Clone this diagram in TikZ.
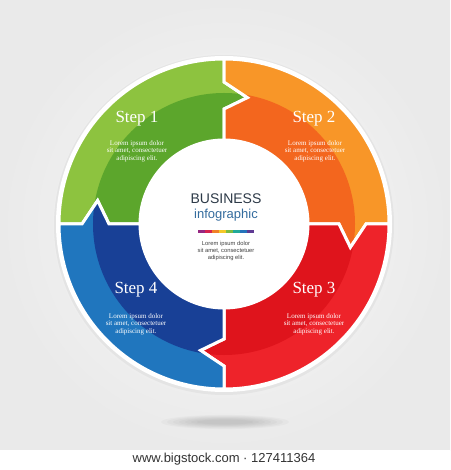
\documentclass[tikz,border=0pt]{standalone}
\usepackage{fontspec}
\setmainfont{Liberation Serif}
\newfontfamily\sansFont{Liberation Sans}

\definecolor{greenLight}{RGB}{141,195,63}
\definecolor{greenDark}{RGB}{92,166,44}
\definecolor{orangeLight}{RGB}{248,150,40}
\definecolor{orangeDark}{RGB}{243,102,30}
\definecolor{redLight}{RGB}{238,35,42}
\definecolor{redDark}{RGB}{223,20,28}
\definecolor{blueLight}{RGB}{32,118,190}
\definecolor{blueDark}{RGB}{24,64,150}
\definecolor{titleGray}{RGB}{45,58,72}
\definecolor{titleBlue}{RGB}{52,108,158}
\definecolor{bgInner}{RGB}{249,249,249}
\definecolor{bgOuter}{RGB}{234,234,234}
\definecolor{barA}{RGB}{150,40,130}
\definecolor{barB}{RGB}{214,36,80}
\definecolor{barC}{RGB}{240,128,40}
\definecolor{barD}{RGB}{245,200,40}
\definecolor{barE}{RGB}{125,187,66}
\definecolor{barF}{RGB}{33,169,154}
\definecolor{barG}{RGB}{37,116,186}
\definecolor{barH}{RGB}{95,58,147}

\newcommand{\rIn}{84}
\newcommand{\rOut}{165}
\newcommand{\rBand}{131}
\newcommand{\rArrowIn}{115}
\newcommand{\rArrowOut}{142}
\newcommand{\rTip}{128.5}
\newcommand{\tipAngle}{10.5}
\newcommand{\segPath}[1]{(#1:\rIn) -- (#1:\rArrowIn) -- ({#1-\tipAngle}:\rTip)
   -- (#1:\rArrowOut) -- (#1:\rOut) arc[start angle=#1, end angle={#1-90}, radius=\rOut]
   -- ({#1-90}:\rArrowOut) -- ({#1-90-\tipAngle}:\rTip) -- ({#1-90}:\rArrowIn)
   -- ({#1-90}:\rIn) arc[start angle={#1-90}, end angle=#1, radius=\rIn] -- cycle}

\tikzset{
  stepLabel/.style={text=white, font=\fontsize{17}{17}\selectfont},
  stepText/.style={text=white, align=center, font=\fontsize{7}{7.6}\selectfont},
  centerText/.style={text=black!75, align=center, font=\sansFont\fontsize{5.8}{7.2}\selectfont},
}

\begin{document}
\begin{tikzpicture}[x=1pt, y=1pt]
   \useasboundingbox (-224,-246) rectangle (226,224);
   \shade[inner color=bgInner, outer color=bgOuter] (-224,-226) rectangle (226,224);
   \fill[white] (-224,-246) rectangle (226,-226);

   % shadow under the wheel
   \foreach \s in {1,...,7}
   {%
      \fill[black, opacity=0.022] (1,-198) ellipse ({22+\s*6} and {1.5+\s*0.8});
   }

   \fill[black, opacity=0.04] (0,-1) circle (170);
   \fill[white] (0,0) circle (168);

   \foreach \a/\cl/\cd in {180/greenLight/greenDark, 90/orangeLight/orangeDark,
                           0/redLight/redDark, -90/blueLight/blueDark}
   {%
      \begin{scope}
         \clip \segPath{\a};
         \fill[\cl] (0,0) circle (\rOut);
         \fill[\cd] (0,0) circle (\rBand);
      \end{scope}
      \draw[white, line width=3pt] \segPath{\a};
   }

   \node (step1) at (-87,105) [stepLabel] {Step 1};
   \node (step2) at (90,105) [stepLabel] {Step 2};
   \node (step3) at (90,-66) [stepLabel] {Step 3};
   \node (step4) at (-88,-66) [stepLabel] {Step 4};

   \node (text1) at (-87,73) [stepText] {Lorem ipsum dolor\\sit amet, consectetuer\\adipiscing elit.};
   \node (text2) at (91,73) [stepText] {Lorem ipsum dolor\\sit amet, consectetuer\\adipiscing elit.};
   \node (text3) at (90,-100) [stepText] {Lorem ipsum dolor\\sit amet, consectetuer\\adipiscing elit.};
   \node (text4) at (-88,-100) [stepText] {Lorem ipsum dolor\\sit amet, consectetuer\\adipiscing elit.};

   \node (business) at (2,25) [text=titleGray, font=\sansFont\fontsize{14}{14}\selectfont] {BUSINESS};
   \node (infographic) at (2,9) [text=titleBlue, font=\sansFont\fontsize{13}{13}\selectfont] {infographic};
   \foreach \c [count=\i from 0] in {barA,barB,barC,barD,barE,barF,barG,barH}
   {%
      \fill[\c] ({-26+\i*7},-9.5) rectangle ++(7,3);
   }
   \node (centerTxt) at (2,-27) [centerText] {Lorem ipsum dolor\\sit amet, consectetuer\\adipiscing elit.};

   \node (stockId) at (0,-235) [text=black!80, font=\sansFont\fontsize{13}{13}\selectfont] {www.bigstock.com · 127411364};
\end{tikzpicture}
\end{document}
